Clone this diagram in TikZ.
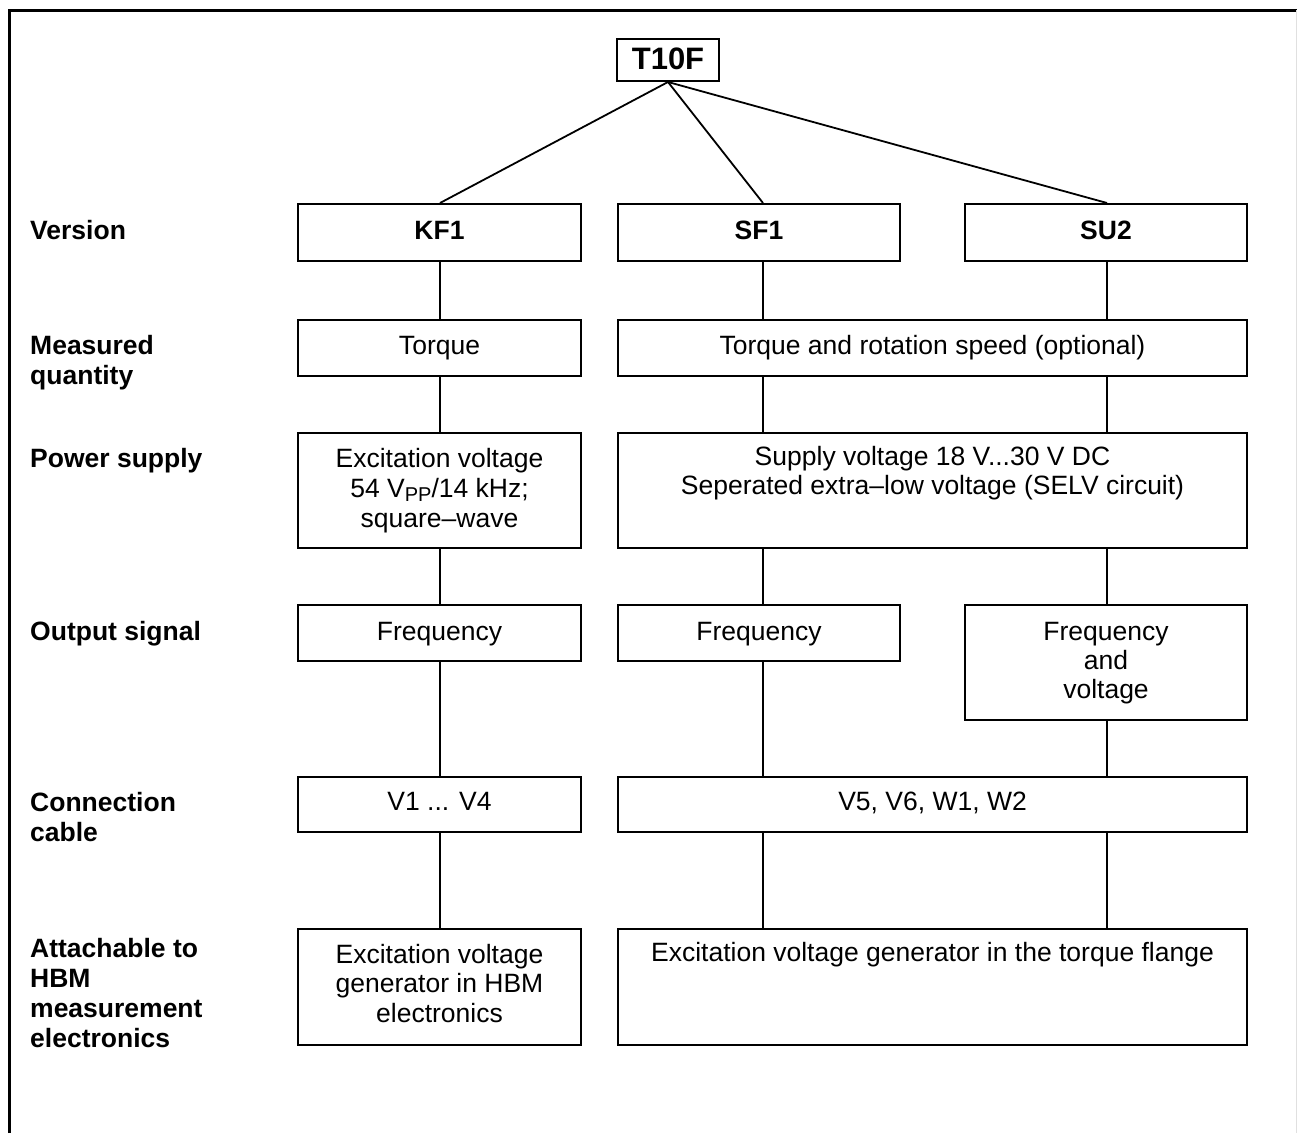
\documentclass[tikz,border=0pt]{standalone}
\usepackage{fontspec}
\setmainfont{Liberation Sans}
\newcommand\mybox[5]{\node[box, minimum width={(#4)-(#2)}, minimum height={(#5)-(#3)}] (#1) at ({((#2)+(#4))/2},{-((#3)+(#5))/2}) {};}
\begin{document}
\begin{tikzpicture}[x=1pt,y=1pt,
  box/.style={draw, line width=2pt, inner sep=0pt},
  conn/.style={line width=1.8pt},
  frame/.style={line width=3pt},
  lbl/.style={anchor=base west, inner sep=0pt, font=\fontsize{26.5}{30}\selectfont\bfseries, align=left},
  txt/.style={anchor=base, inner sep=0pt, font=\fontsize{26.5}{30}\selectfont, align=center},
  btxt/.style={anchor=base, inner sep=0pt, font=\fontsize{26.5}{30}\selectfont\bfseries, align=center}]
\useasboundingbox (0,0) rectangle (1297,-1133);
% frame
\draw[frame] (9,-1133) -- (9,-10) -- (1297,-10);
\draw[black!12, line width=1pt] (1296.5,-10) -- (1296.5,-1133);

% boxes
\mybox{t10f}{617}{39}{719}{81}
\mybox{kf1}{298}{204}{581}{261}
\mybox{sf1}{618}{204}{900}{261}
\mybox{su2}{965}{204}{1247}{261}
\mybox{mq1}{298}{320}{581}{376}
\mybox{mq2}{618}{320}{1247}{376}
\mybox{pw1}{298}{433}{581}{548}
\mybox{pw2}{618}{433}{1247}{548}
\mybox{out1}{298}{605}{581}{661}
\mybox{out2}{618}{605}{900}{661}
\mybox{out3}{965}{605}{1247}{720}
\mybox{cab1}{298}{777}{581}{832}
\mybox{cab2}{618}{777}{1247}{832}
\mybox{att1}{298}{929}{581}{1045}
\mybox{att2}{618}{929}{1247}{1045}

% column coordinates
\coordinate (c1) at (440,0);
\coordinate (c2) at (763,0);
\coordinate (c3) at (1107,0);

% texts (anchor=base sits on the last line of a multi-line node)
\node[btxt, font=\fontsize{31}{36}\selectfont\bfseries] (tt10f) at (668,-69.5) {T10F};
\node[btxt] (tkf1) at (kf1 |- 0,-239) {KF1};
\node[btxt] (tsf1) at (sf1 |- 0,-239) {SF1};
\node[btxt] (tsu2) at (su2 |- 0,-239) {SU2};
\node[txt] (tmq1) at (mq1 |- 0,-354) {Torque};
\node[txt] (tmq2) at (mq2 |- 0,-354) {Torque and rotation speed (optional)};
\node[txt] (tpw1) at (pw1 |- 0,-527) {Excitation voltage\\54 V\raisebox{-4pt}{\fontsize{20}{20}\selectfont PP}/14 kHz;\\square–wave};
\node[txt, font=\fontsize{26.5}{29}\selectfont] (tpw2) at (pw2 |- 0,-494) {Supply voltage 18 V...30 V DC\\Seperated extra–low voltage (SELV circuit)};
\node[txt] (tout1) at (out1 |- 0,-640) {Frequency};
\node[txt] (tout2) at (out2 |- 0,-640) {Frequency};
\node[txt, font=\fontsize{26.5}{29}\selectfont] (tout3) at (out3 |- 0,-698) {Frequency\\and\\voltage};
\node[txt] (tcab1) at (cab1 |- 0,-810) {V1 ... V4};
\node[txt] (tcab2) at (cab2 |- 0,-810) {V5, V6, W1, W2};
\node[txt, font=\fontsize{26.5}{29.5}\selectfont] (tatt1) at (att1 |- 0,-1022) {Excitation voltage\\generator in HBM\\electronics};
\node[txt] (tatt2) at (att2 |- 0,-961) {Excitation voltage generator in the torque flange};

% row labels
\node[lbl] (lver) at (30,-239) {Version};
\node[lbl] (lmq) at (30,-384) {Measured\\quantity};
\node[lbl] (lpw) at (30,-467) {Power supply};
\node[lbl] (lout) at (30,-640) {Output signal};
\node[lbl] (lcab) at (30,-841) {Connection\\cable};
\node[lbl] (latt) at (30,-1047) {Attachable to\\HBM\\measurement\\electronics};

% connectors from T10F
\draw[conn] (t10f.south) -- (kf1.north -| c1);
\draw[conn] (t10f.south) -- (sf1.north -| c2);
\draw[conn] (t10f.south) -- (su2.north -| c3);

% column 1
\draw[conn] (kf1.south -| c1) -- (mq1.north -| c1);
\draw[conn] (mq1.south -| c1) -- (pw1.north -| c1);
\draw[conn] (pw1.south -| c1) -- (out1.north -| c1);
\draw[conn] (out1.south -| c1) -- (cab1.north -| c1);
\draw[conn] (cab1.south -| c1) -- (att1.north -| c1);
% column 2
\draw[conn] (sf1.south -| c2) -- (mq2.north -| c2);
\draw[conn] (mq2.south -| c2) -- (pw2.north -| c2);
\draw[conn] (pw2.south -| c2) -- (out2.north -| c2);
\draw[conn] (out2.south -| c2) -- (cab2.north -| c2);
\draw[conn] (cab2.south -| c2) -- (att2.north -| c2);
% column 3
\draw[conn] (su2.south -| c3) -- (mq2.north -| c3);
\draw[conn] (mq2.south -| c3) -- (pw2.north -| c3);
\draw[conn] (pw2.south -| c3) -- (out3.north -| c3);
\draw[conn] (out3.south -| c3) -- (cab2.north -| c3);
\draw[conn] (cab2.south -| c3) -- (att2.north -| c3);
\end{tikzpicture}
\end{document}
